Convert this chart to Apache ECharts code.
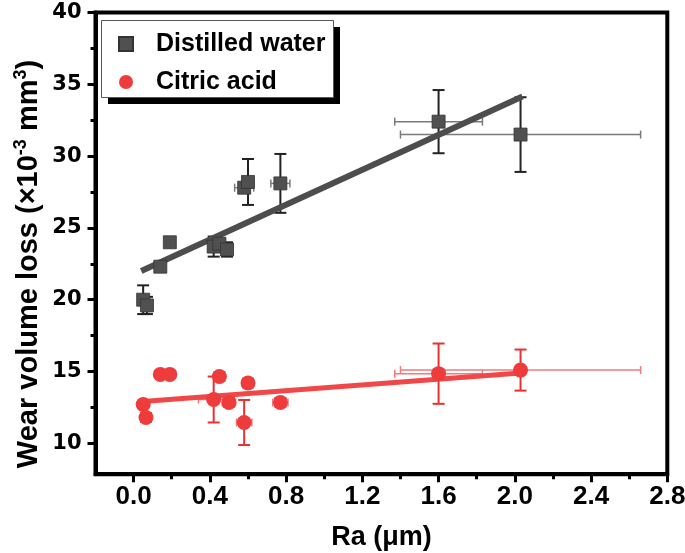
<!DOCTYPE html>
<html>
<head>
<meta charset="utf-8">
<script src="https://cdn.jsdelivr.net/npm/echarts@6/dist/echarts.min.js"></script>
<style>html,body{margin:0;padding:0;background:#fff}#c{width:685px;height:553px}</style>
</head>
<body>
<div id="c"></div>
<script>
// ---- data ----
const waterRa   = [0.05, 0.07, 0.14, 0.19, 0.42, 0.45, 0.49, 0.58, 0.60, 0.77, 1.60, 2.03];
const waterLoss = [20.0, 19.6, 22.3, 24.0, 23.7, 23.9, 23.5, 27.8, 28.2, 28.1, 32.4, 31.5];
const waterYErr = [1.0, 0.6, 0.3, 0.3, 0.7, 0.3, 0.5, 0.3, 1.6, 2.05, 2.2, 2.6];
const waterXErr = [0.01, 0.01, 0.01, 0.01, 0.02, 0.02, 0.03, 0.05, 0.03, 0.05, 0.23, 0.63];

const citricRa   = [0.05, 0.065, 0.14, 0.19, 0.42, 0.45, 0.50, 0.58, 0.60, 0.77, 1.60, 2.03];
const citricLoss = [12.7, 11.8, 14.8, 14.8, 13.05, 14.65, 12.85, 11.45, 14.2, 12.85, 14.85, 15.1];
const citricYErr = [0.2, 0.3, 0.2, 0.2, 1.6, 0.3, 0.3, 1.57, 0.3, 0.3, 2.1, 1.43];
const citricXErr = [0.02, 0.02, 0.03, 0.03, 0.08, 0.02, 0.035, 0.04, 0.03, 0.04, 0.23, 0.63];

const waterFitRa = [0.04, 2.04];
const waterFitLoss = [22.0, 34.15];
const citricFitRa = [0.03, 2.03];
const citricFitLoss = [12.9, 14.9];

const xTicks = [0.0, 0.4, 0.8, 1.2, 1.6, 2.0, 2.4, 2.8];
const xMinorTicks = [0.2, 0.6, 1.0, 1.4, 1.8, 2.2, 2.6];
const yTicks = [10, 15, 20, 25, 30, 35, 40];
const yMinorTicks = [12.5, 17.5, 22.5, 27.5, 32.5, 37.5];

const seriesNames = ['Distilled water', 'Citric acid'];
const xName = 'Ra (μm)';

// ---- chart ----
const chart = echarts.init(document.getElementById('c'));
const black = '#000';
const sans = '"Liberation Sans", Arial, sans-serif';

function errSeries(name, xs, ys, xe, ye, vColor, hColor, z) {
  return {
    name: name, type: 'custom', silent: true, z: z,
    data: xs.map((x, i) => [x, ys[i], xe[i], ye[i]]),
    encode: { x: 0, y: 1 },
    renderItem: function (params, api) {
      const x = api.value(0), y = api.value(1), xe = api.value(2), ye = api.value(3);
      const top = api.coord([x, y + ye]);
      const bot = api.coord([x, y - ye]);
      const l = api.coord([x - xe, y]);
      const r = api.coord([x + xe, y]);
      const cw = 6, ch = 4;
      const vs = { stroke: vColor, lineWidth: 2 };
      const hs = { stroke: hColor, lineWidth: 1.5 };
      return {
        type: 'group',
        children: [
          { type: 'line', shape: { x1: l[0], y1: l[1], x2: r[0], y2: r[1] }, style: hs },
          { type: 'line', shape: { x1: l[0], y1: l[1] - ch, x2: l[0], y2: l[1] + ch }, style: hs },
          { type: 'line', shape: { x1: r[0], y1: r[1] - ch, x2: r[0], y2: r[1] + ch }, style: hs },
          { type: 'line', shape: { x1: top[0], y1: top[1], x2: bot[0], y2: bot[1] }, style: vs },
          { type: 'line', shape: { x1: top[0] - cw, y1: top[1], x2: top[0] + cw, y2: top[1] }, style: vs },
          { type: 'line', shape: { x1: bot[0] - cw, y1: bot[1], x2: bot[0] + cw, y2: bot[1] }, style: vs }
        ]
      };
    }
  };
}

const option = {
  animation: false,
  backgroundColor: '#fff',
  grid: { left: 95.5, right: 17.7, top: 12.5, bottom: 78.8, outerBoundsMode: 'none', containLabel: false,
    show: true, borderColor: black, borderWidth: 4, backgroundColor: 'transparent' },
  xAxis: [
    {
      type: 'value', min: -0.2, max: 2.8, interval: 0.2,
      axisLine: { show: true, onZero: false, lineStyle: { color: black, width: 4 } },
      axisTick: { show: true, customValues: xTicks, length: 8, lineStyle: { color: black, width: 3 } },
      axisLabel: { customValues: xTicks, formatter: v => v.toFixed(1), margin: 10, color: black,
        fontFamily: sans, fontWeight: 'bold', fontSize: 26 },
      splitLine: { show: false },
      name: xName, nameLocation: 'middle', nameGap: 50,
      nameTextStyle: { fontFamily: sans, fontWeight: 'bold', fontSize: 27, color: black }
    },
    {
      type: 'value', min: -0.2, max: 2.8, interval: 0.2, position: 'bottom', gridIndex: 0,
      axisLine: { show: false, onZero: false },
      axisTick: { show: true, customValues: xMinorTicks, length: 5, lineStyle: { color: black, width: 3 } },
      axisLabel: { show: false }, splitLine: { show: false }
    }
  ],
  yAxis: [
    {
      type: 'value', min: 7.85, max: 40,
      axisLine: { show: true, onZero: false, lineStyle: { color: black, width: 4 } },
      axisTick: { show: true, customValues: yTicks, length: 8, lineStyle: { color: black, width: 3 } },
      axisLabel: { customValues: yTicks, margin: 14, color: black,
        fontFamily: '"DejaVu Sans", sans-serif', fontWeight: 'bold', fontSize: 21 },
      splitLine: { show: false }
    },
    {
      type: 'value', min: 7.85, max: 40, position: 'left', gridIndex: 0, offset: 0,
      axisLine: { show: false, onZero: false },
      axisTick: { show: true, customValues: yMinorTicks, length: 5, lineStyle: { color: black, width: 3 } },
      axisLabel: { show: false }, splitLine: { show: false }
    }
  ],
  legend: {
    data: seriesNames,
    orient: 'vertical', left: 113, top: 26, z: 10,
    itemWidth: 14, itemHeight: 14, itemGap: 12,
    textStyle: { fontFamily: sans, fontWeight: 'bold', fontSize: 25, color: black, lineHeight: 26, padding: [0, 0, 0, 18] }
  },
  graphic: [
    { type: 'rect', z: 1, shape: { x: 108, y: 27, width: 232, height: 77 }, style: { fill: black } },
    { type: 'rect', z: 2, shape: { x: 101.5, y: 20.5, width: 232, height: 77 }, style: { fill: '#fff', stroke: '#555', lineWidth: 1 } },
    {
      type: 'text', z: 5, x: 29, y: 264, rotation: Math.PI / 2,
      style: {
        text: '{a|Wear volume loss (×10}{s|-3}{a| mm}{s|3}{a|)}',
        align: 'center', verticalAlign: 'middle',
        rich: {
          a: { fontFamily: sans, fontWeight: 'bold', fontSize: 29, fill: black, lineHeight: 34 },
          s: { fontFamily: sans, fontWeight: 'bold', fontSize: 18, fill: black, lineHeight: 34, verticalAlign: 'top', padding: [0, 0, 14, 0] }
        }
      }
    }
  ],
  series: [
    errSeries('errWater', waterRa, waterLoss, waterXErr, waterYErr, '#222', '#7a7a7a', 2),
    errSeries('errCitric', citricRa, citricLoss, citricXErr, citricYErr, '#E8302F', '#F27A7A', 2),
    { name: 'fitWater', type: 'line', silent: true, z: 3, showSymbol: false,
      data: waterFitRa.map((x, i) => [x, waterFitLoss[i]]), lineStyle: { color: '#4d4d4d', width: 6 } },
    { name: 'fitCitric', type: 'line', silent: true, z: 3, showSymbol: false,
      data: citricFitRa.map((x, i) => [x, citricFitLoss[i]]), lineStyle: { color: '#F04848', width: 5 } },
    { name: seriesNames[0], type: 'scatter', symbol: 'rect', symbolSize: 13, z: 4,
      itemStyle: { color: '#505050', borderColor: '#333', borderWidth: 0.8, opacity: 1 },
      data: waterRa.map((x, i) => [x, waterLoss[i]]) },
    { name: seriesNames[1], type: 'scatter', symbol: 'circle', symbolSize: 15, z: 4,
      itemStyle: { color: '#EE3B3B', opacity: 1 },
      data: citricRa.map((x, i) => [x, citricLoss[i]]) }
  ]
};
chart.setOption(option);
</script>
</body>
</html>
